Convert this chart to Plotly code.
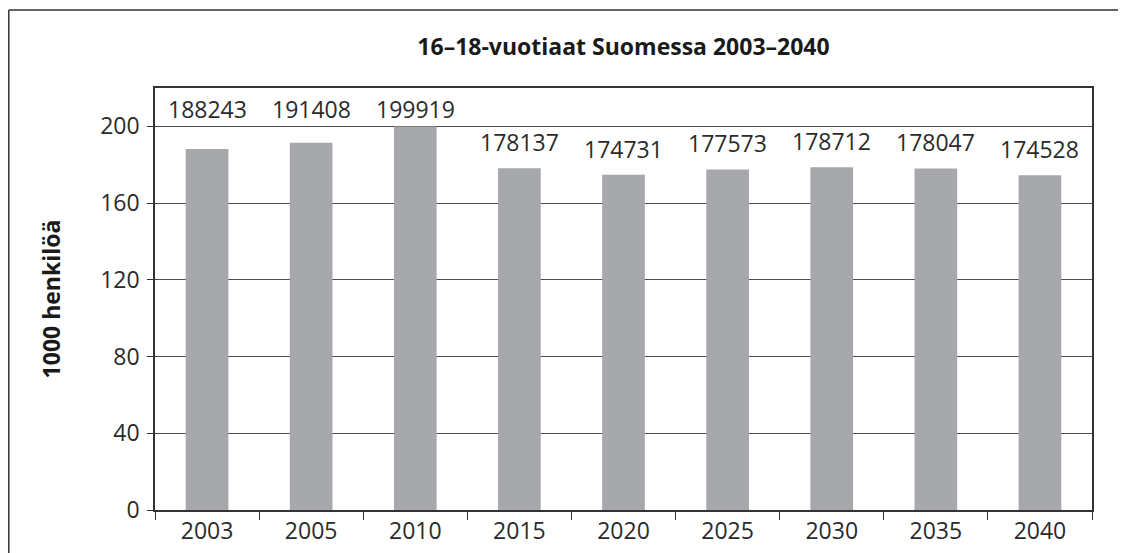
import numpy as np
import plotly.graph_objects as go

# 16-18-vuotiaat Suomessa
years = ['2003', '2005', '2010', '2015', '2020', '2025', '2030', '2035', '2040']
persons = [188243, 191408, 199919, 178137, 174731, 177573, 178712, 178047, 174528]
y_ticks = [0, 40, 80, 120, 160, 200]

thousands = np.array(persons) / 1000.0
bar_color = '#a7a8ac'
font_name = 'Open Sans'

# the page puts the figure 8px in from the top-left corner
W, H = 1126, 553
L, T, R, B = 147, 80, 42, 51
pw, ph = W - L - R, H - T - B

fig = go.Figure()

fig.add_trace(
    go.Bar(
        x=years,
        y=thousands,
        marker=dict(color=bar_color, line=dict(width=0)),
        width=0.41,
        hoverinfo='skip'
    ))

# labels above the bars, the tallest ones sit in one row under the top
# (x as category index: '2003' would be read as a position number)
label_y = np.where(thousands > 185, 195.5, thousands)
for i, (v, p) in enumerate(zip(label_y, persons)):
    fig.add_annotation(
        x=i, y=v, text=str(p),
        showarrow=False, yanchor='bottom', yshift=8,
        font=dict(family=font_name, size=23, color='#2b2b2b'))

fig.update_layout(
    width=W, height=H,
    margin=dict(l=L, r=R, t=T, b=B),
    paper_bgcolor='white',
    plot_bgcolor='white',
    showlegend=False,
    font=dict(family=font_name, size=23, color='#2b2b2b'),
    title=dict(
        text='<b>16–18-vuotiaat Suomessa 2003–2040</b>',
        x=0.5, xref='paper', xanchor='center',
        y=1 - 39 / H, yref='container', yanchor='middle',
        font=dict(family=font_name, size=23, color='#1a1a1a')),
)

fig.update_xaxes(
    type='category',
    range=[-0.5, len(years) - 0.5],
    showgrid=False,
    showline=True, linecolor='#333333', linewidth=1.5,
    mirror=True,
    ticks='outside', tickson='boundaries', ticklen=8,
    tickcolor='#333333', tickwidth=1.2,
    tickangle=0,
    tickfont=dict(size=23, color='#2b2b2b'),
)
fig.update_yaxes(
    range=[0, 220],
    tickvals=y_ticks,
    showgrid=True, gridcolor='#4d4d4d', gridwidth=1.2,
    zeroline=False,
    showline=True, linecolor='#333333', linewidth=1.5,
    mirror=True,
    ticks='outside', ticklen=6, tickcolor='#333333', tickwidth=1.2,
    ticklabelstandoff=3,
    tickfont=dict(size=23, color='#2b2b2b'),
    title=dict(text='<b>1000 henkilöä</b>', standoff=33,
               font=dict(family=font_name, size=23, color='#1a1a1a')),
)

# outer frame: left and top lines only
fx = (0.8 - L) / pw
fy = (H - B - 2) / ph
fig.add_shape(type='line', xref='paper', yref='paper',
              x0=fx, x1=fx, y0=fy, y1=-0.3,
              line=dict(color='#333333', width=1.5))
fig.add_shape(type='line', xref='paper', yref='paper',
              x0=fx, x1=1.2, y0=fy, y1=fy,
              line=dict(color='#333333', width=1.5))

fig.write_html("out.html")
